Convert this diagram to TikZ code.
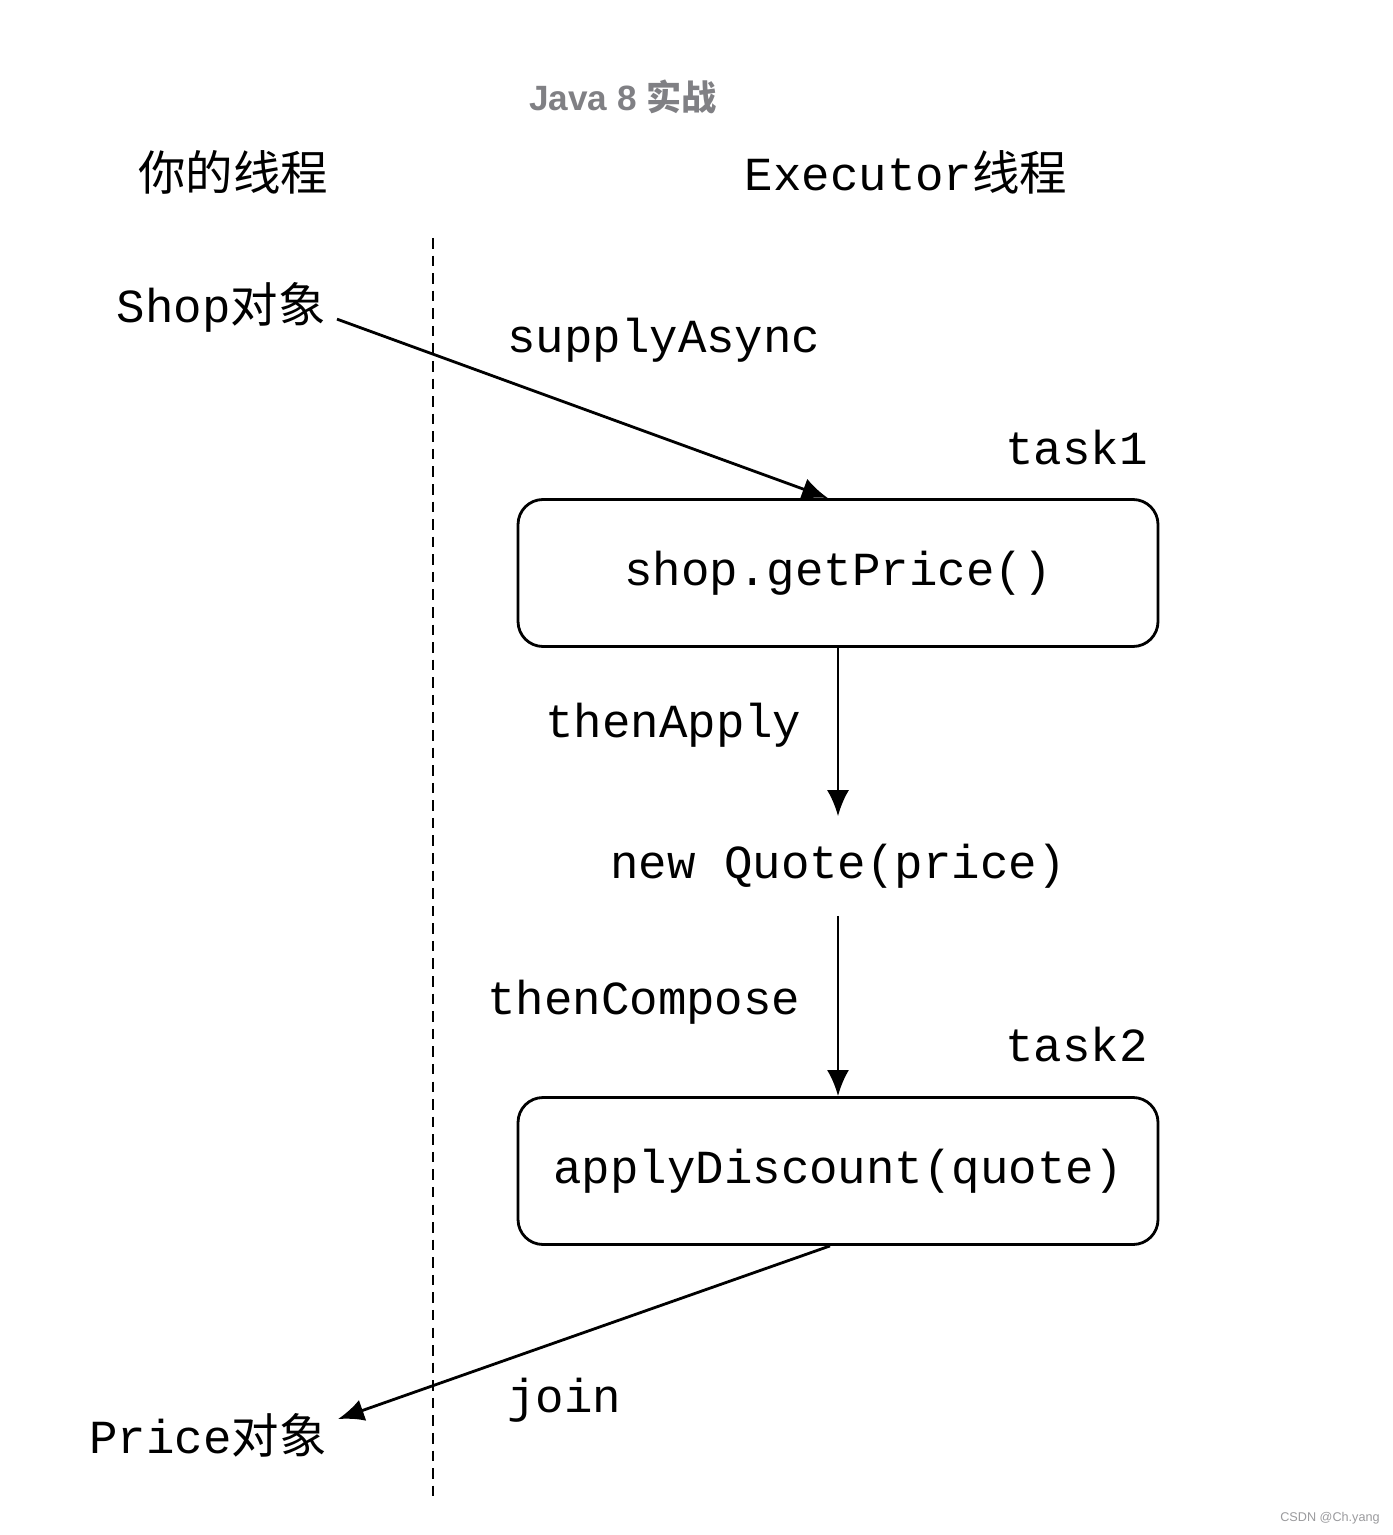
\documentclass[tikz,border=0pt]{standalone}
\usepackage{fontspec}
\setmainfont{Liberation Sans}
\setmonofont{Liberation Mono}
\newfontfamily\cjk{Noto Sans CJK SC}
\usetikzlibrary{arrows.meta}
\definecolor{titlegray}{RGB}{128,128,132}
\begin{document}
\begin{tikzpicture}[x=0.1mm, y=0.1mm,
    lbl/.style={font=\fontsize{13.5pt}{16pt}\selectfont\ttfamily, inner sep=1pt},
    task/.style={lbl, draw, line width=0.8pt, rounded corners=0.25cm, minimum width=6.4cm, minimum height=1.47cm},
    arr/.style={line width=0.8pt, -{Latex[length=0.26cm, width=0.22cm]}}]
    \useasboundingbox (0,0) rectangle (1392,-1535);
    \node[font=\fontsize{10pt}{12pt}\selectfont\bfseries, text=titlegray] (title) at (623,-97) {Java 8 {\cjk 实战}};
    \node[lbl, font=\fontsize{13.5pt}{16pt}\selectfont\cjk] (mine) at (233,-172) {你的线程};
    \node[lbl] (exec) at (906,-172) {Executor{\cjk 线程}};
    \coordinate (top) at (433,-238); \coordinate (bottom) at (433,-1500);
    \draw[line width=0.6pt, dash pattern=on 3pt off 2pt] (top) -- (bottom); % thread border
    \node[lbl, anchor=east, inner sep=3pt] (shop) at (337,-307) {Shop{\cjk 对象}};
    \node[lbl, anchor=west] (supply) at (503,-340) {supplyAsync};
    \node[lbl, anchor=west] (t1) at (1001,-448) {task1};
    \node[task] (getprice) at (838,-573) {shop.getPrice()};
    \node[lbl, anchor=west] (apply) at (541,-725) {thenApply};
    \node[lbl, inner ysep=0.27cm] (quote) at (838,-866) {new Quote(price)};
    \node[lbl, anchor=west] (compose) at (483,-1002) {thenCompose};
    \node[lbl, anchor=west] (t2) at (1001,-1045) {task2};
    \node[task] (discount) at (838,-1171) {applyDiscount(quote)};
    \node[lbl, anchor=west] (join) at (503,-1400) {join};
    \node[lbl, anchor=east, inner sep=3pt] (price) at (338,-1435) {Price{\cjk 对象}};
    \node[font=\fontsize{3.6pt}{4pt}\selectfont, text=titlegray!80] (mark) at (1330,-1518) {CSDN @Ch.yang};
    \draw[arr] (shop.-6) -- ([xshift=-0.1cm]getprice.north);
    \draw[arr] (getprice.south) -- (quote.north);
    \draw[arr] (quote.south) -- (discount.north);
    \draw[arr] ([xshift=-0.08cm]discount.south) -- (price.7);
\end{tikzpicture}
\end{document}
